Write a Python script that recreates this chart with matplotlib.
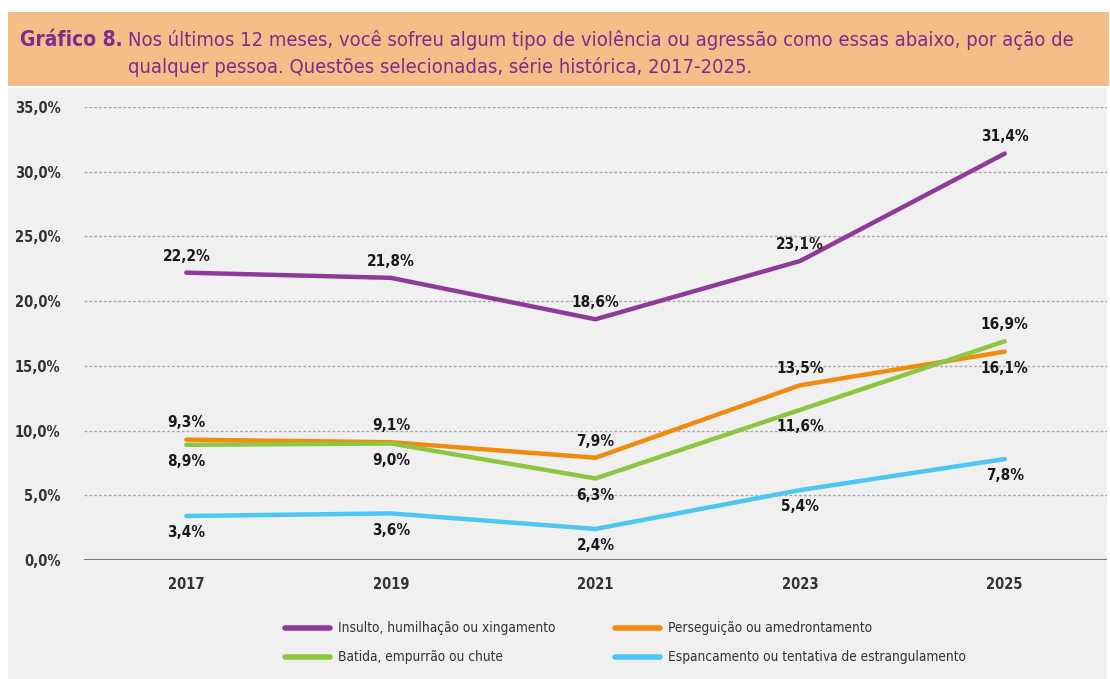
import matplotlib
matplotlib.use("Agg")
import matplotlib.pyplot as plt
from matplotlib.patches import Rectangle
from matplotlib.lines import Line2D
from matplotlib import font_manager as fm

years = ["2017", "2019", "2021", "2023", "2025"]
insulto = [22.2, 21.8, 18.6, 23.1, 31.4]
perseguicao = [9.3, 9.1, 7.9, 13.5, 16.1]
batida = [8.9, 9.0, 6.3, 11.6, 16.9]
espancamento = [3.4, 3.6, 2.4, 5.4, 7.8]
yticks = [0, 5, 10, 15, 20, 25, 30, 35]

names = ["Insulto, humilhação ou xingamento", "Perseguição ou amedrontamento",
         "Batida, empurrão ou chute", "Espancamento ou tentativa de estrangulamento"]
series = [insulto, perseguicao, batida, espancamento]
colors = ["#8E3A98", "#F28A0F", "#8DC641", "#4CC6F2"]
# label position: +1 above, -1 below
placement = [
    [1, 1, 1, 1, 1],
    [1, 1, 1, 1, -1],
    [-1, -1, -1, -1, 1],
    [-1, -1, -1, -1, -1],
]

# pick a condensed font if one is installed
cands = [f for f in fm.fontManager.ttflist
         if ("Narrow" in f.name or "Condensed" in f.name
             or f.stretch in ("condensed", "semi-condensed", 300))]
fam = "DejaVu Sans"
for f in cands:
    if f.name.startswith("DejaVu Sans") and "Mono" not in f.name:
        fam = f.name
        break
else:
    if cands:
        fam = cands[0].name
plt.rcParams["font.family"] = [fam, "DejaVu Sans"]
plt.rcParams["font.stretch"] = "condensed"

W, H = 1110, 679
fig = plt.figure(figsize=(W / 100, H / 100), dpi=100)
fig.patch.set_facecolor("white")
renderer = fig.canvas.get_renderer()

def px(x, y, w, h):
    return (x / W, 1 - (y + h) / H, w / W, h / H)

def fit(t, target_w):
    bb = t.get_window_extent(renderer)
    t.set_fontsize(t.get_fontsize() * target_w / bb.width)

bx, by, bw, bh = px(8, 88, 1099, 591)
fig.add_artist(Rectangle((bx, by), bw, bh, transform=fig.transFigure,
                         facecolor="#F0F0F0", edgecolor="none", zorder=0))
ox, oy, ow, oh = px(8, 12, 1101, 74)
fig.add_artist(Rectangle((ox, oy), ow, oh, transform=fig.transFigure,
                         facecolor="#F5BD87", edgecolor="none", zorder=0))

title_color = "#7A2E8C"
t0 = fig.text(20 / W, 1 - 40 / H, "Gráfico 8.", fontsize=17, fontweight="bold",
              color=title_color, va="center", ha="left")
fit(t0, 102)
t1 = fig.text(128 / W, 1 - 40 / H,
              "Nos últimos 12 meses, você sofreu algum tipo de violência ou agressão como essas abaixo, por ação de",
              fontsize=15, color=title_color, va="center", ha="left")
fit(t1, 950)
t2 = fig.text(128 / W, 1 - 67 / H,
              "qualquer pessoa. Questões selecionadas, série histórica, 2017-2025.",
              fontsize=t1.get_fontsize(), color=title_color, va="center", ha="left")

ax = fig.add_axes(px(84, 107, 1023, 453))
ax.set_facecolor("none")
ax.set_xlim(-0.5, 4.5)
ax.set_ylim(0, 35)
x = list(range(len(years)))

for s, c, pl in zip(series, colors, placement):
    ax.plot(x, s, color=c, lw=3.2, solid_capstyle="round", zorder=3)
    for xi, v, p in zip(x, s, pl):
        lab = f"{v:.1f}%".replace(".", ",")
        ax.annotate(lab, (xi, v), xytext=(0, 12 * p), textcoords="offset points",
                    ha="center", va="center", fontsize=11, fontweight="bold",
                    color="#1a1a1a", zorder=4)

ax.set_yticks(yticks)
ax.set_yticklabels([f"{t:.1f}%".replace(".", ",") for t in yticks])
ax.set_xticks(x)
ax.set_xticklabels(years)
ax.tick_params(axis="both", length=0, labelsize=10.5, colors="#333333")
ax.tick_params(axis="y", pad=17)
ax.tick_params(axis="x", pad=12)
for t in ax.get_xticklabels() + ax.get_yticklabels():
    t.set_fontweight("bold")
for t in yticks[1:]:
    ax.axhline(t, color="#A8A8A8", lw=1.0, ls=(0, (2, 1.5)), zorder=1)
ax.axhline(0, color="#7A7A7A", lw=1.5, zorder=2)
for sp in ax.spines.values():
    sp.set_visible(False)

# legend (2 x 2 grid, row-wise as in the reference)
leg_cols = [285, 615]
leg_rows = [628, 657]
for k, (nm, c) in enumerate(zip(names, colors)):
    cx = leg_cols[k % 2]
    ry = leg_rows[k // 2]
    fig.add_artist(Line2D([cx / W, (cx + 45) / W], [1 - ry / H, 1 - ry / H],
                          transform=fig.transFigure, color=c, lw=4,
                          solid_capstyle="round"))
    fig.text((cx + 53) / W, 1 - ry / H, nm, fontsize=9.8, color="#333333",
             va="center", ha="left")

fig.savefig("out.png", dpi=100, facecolor=fig.get_facecolor())
